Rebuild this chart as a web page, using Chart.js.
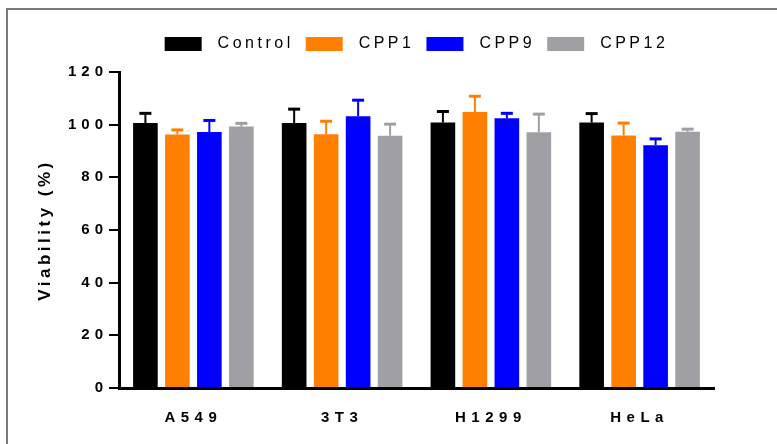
<!DOCTYPE html>
<html>
<head>
<meta charset="utf-8">
<script src="https://cdn.jsdelivr.net/npm/chart.js@4"></script>
<style>
  body { margin: 0; background: #fff; }
  canvas { display: block; }
</style>
</head>
<body>
<canvas id="myChart" width="777" height="444"></canvas>
<script>
const cellLines = ["A549", "3T3", "H1299", "HeLa"];
const control = [100.6, 100.6, 100.8, 100.8];
const controlErr = [3.7, 5.3, 4.2, 3.4];
const cpp1 = [96.3, 96.4, 104.8, 95.9];
const cpp1Err = [1.7, 4.9, 6.0, 4.7];
const cpp9 = [97.2, 103.2, 102.4, 92.2];
const cpp9Err = [4.4, 6.1, 1.9, 2.4];
const cpp12 = [99.3, 95.8, 97.1, 97.3];
const cpp12Err = [1.2, 4.4, 6.9, 1.0];
const yTicks = [0, 20, 40, 60, 80, 100, 120];

const FONT = "'Liberation Sans', Arial, sans-serif";

// wrap a box's methods so its text uses its own letter spacing
function withSpacing(obj, px, methods) {
  methods.forEach((m) => {
    const orig = obj[m];
    if (!orig || orig._sp) return;
    const f = function (...args) {
      const c = this.ctx;
      const prev = c.letterSpacing;
      c.letterSpacing = px;
      try { return orig.apply(this, args); } finally { c.letterSpacing = prev; }
    };
    f._sp = true;
    obj[m] = f;
  });
}

const spacing = {
  id: "spacing",
  beforeLayout(chart) {
    withSpacing(chart.legend, "3.5px", ["fit", "draw"]);
    withSpacing(chart.scales.x, "5.5px", ["update", "draw"]);
    withSpacing(chart.scales.y, "5px", ["update", "draw"]);
    withSpacing(chart.scales.y, "3.5px", ["drawTitle"]);
  },
  beforeDraw(chart) {
    // frame lines at left and top
    const ctx = chart.ctx;
    ctx.save();
    ctx.fillStyle = "#7a7a7a";
    ctx.fillRect(6, 8, 777, 2);
    ctx.fillRect(6, 8, 2, 444);
    ctx.restore();
  },
};

// upward error bars with caps
const errorBars = {
  id: "errorBars",
  afterDatasetsDraw(chart) {
    const ctx = chart.ctx;
    const yScale = chart.scales.y;
    chart.data.datasets.forEach((ds, i) => {
      const meta = chart.getDatasetMeta(i);
      meta.data.forEach((bar, j) => {
        const top = yScale.getPixelForValue(ds.data[j] + ds.err[j]);
        ctx.save();
        ctx.strokeStyle = ds.backgroundColor;
        ctx.lineWidth = 2;
        ctx.beginPath();
        ctx.moveTo(bar.x, bar.y);
        ctx.lineTo(bar.x, top);
        ctx.stroke();
        ctx.lineWidth = 3;
        ctx.beginPath();
        ctx.moveTo(bar.x - 6, top);
        ctx.lineTo(bar.x + 6, top);
        ctx.stroke();
        ctx.restore();
      });
    });
  },
};

const ctx = document.getElementById("myChart").getContext("2d");
const myChart = new Chart(ctx, {
  type: "bar",
  data: {
    labels: cellLines,
    datasets: [
      { label: "Control", data: control, err: controlErr, backgroundColor: "#000000" },
      { label: "CPP1", data: cpp1, err: cpp1Err, backgroundColor: "#ff8000" },
      { label: "CPP9", data: cpp9, err: cpp9Err, backgroundColor: "#0000ff" },
      { label: "CPP12", data: cpp12, err: cpp12Err, backgroundColor: "#a09fa4" },
    ],
  },
  plugins: [spacing, errorBars],
  options: {
    responsive: false,
    animation: false,
    categoryPercentage: 0.86,
    barPercentage: 0.77,
    layout: { padding: { top: 24, right: 63, left: 0, bottom: 0 } },
    plugins: {
      legend: {
        fullSize: false,
        labels: {
          boxWidth: 37,
          boxHeight: 14,
          padding: 12,
          color: "#000",
          font: { family: FONT, size: 16 },
          generateLabels(chart) {
            // extra gap between swatch and text
            return Chart.defaults.plugins.legend.labels.generateLabels(chart)
              .map((l) => ({ ...l, text: " " + l.text }));
          },
        },
      },
      // empty spacer between legend and plot
      subtitle: {
        display: true,
        text: "",
        weight: 500,
        padding: 0,
        font: { size: 10, lineHeight: 1 },
      },
      tooltip: { enabled: false },
    },
    scales: {
      x: {
        grid: { display: false, drawTicks: false },
        border: { display: true, color: "#000", width: 3 },
        ticks: {
          padding: 21,
          color: "#000",
          font: { family: FONT, size: 15, weight: "bold" },
        },
        afterFit(scale) { scale.height = 56; },
      },
      y: {
        min: 0,
        max: 120,
        afterBuildTicks(scale) { scale.ticks = yTicks.map((v) => ({ value: v })); },
        grid: { drawOnChartArea: false, color: "#000", lineWidth: 2, tickLength: 10 },
        border: { display: true, color: "#000", width: 3 },
        ticks: {
          padding: 1,
          color: "#000",
          font: { family: FONT, size: 15, weight: "bold" },
        },
        title: {
          display: true,
          text: "Viability (%)",
          color: "#000",
          padding: { top: 35, bottom: 0 },
          font: { family: FONT, size: 17, weight: "bold" },
        },
        afterFit(scale) { scale.width = 119; },
      },
    },
  },
});
</script>
</body>
</html>
